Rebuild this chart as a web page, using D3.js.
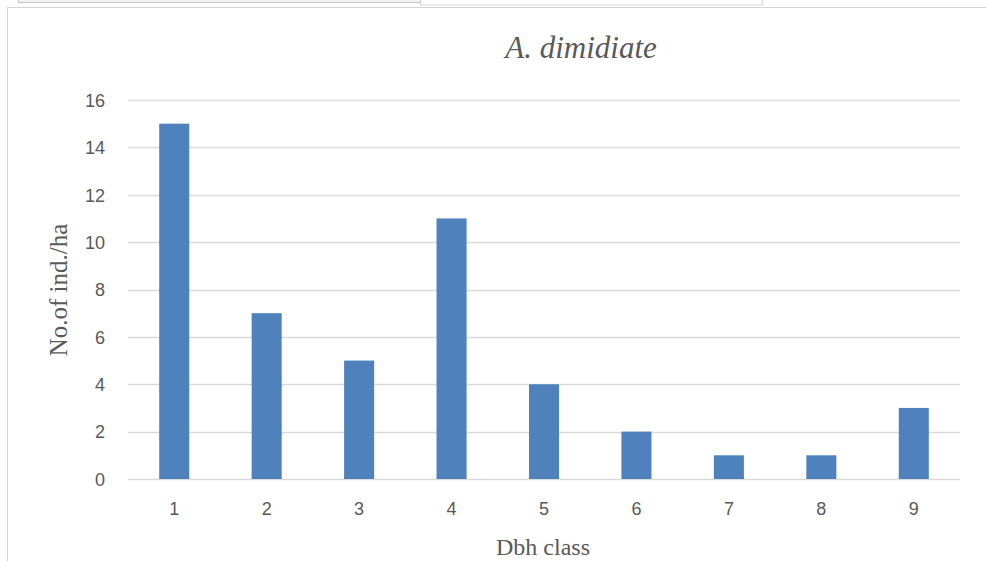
<!DOCTYPE html>
<html><head><meta charset="utf-8">
<script src="https://cdn.jsdelivr.net/npm/d3@7"></script>
<style>body{margin:0;background:#fff;}svg{display:block;}</style>
</head><body>
<script>
const categories = ["1","2","3","4","5","6","7","8","9"];
const values = [15,7,5,11,4,2,1,1,3];
const yTicks = [0,2,4,6,8,10,12,14,16];
const title = "A. dimidiate";
const xTitle = "Dbh class";
const yTitle = "No.of ind./ha";

const W = 986, H = 561;
const svg = d3.select("body").append("svg").attr("width", W).attr("height", H);

// frame artifacts
svg.append("rect").attr("x",18.5).attr("y",-2).attr("width",402).attr("height",4.5)
  .attr("fill","#f2f2f2").attr("stroke","#c8c8c8");
svg.append("rect").attr("x",420.5).attr("y",-2).attr("width",342).attr("height",7)
  .attr("fill","#fff").attr("stroke","#d4d4d4");
svg.append("path").attr("d","M7.5,561 V7.5 H986").attr("fill","none").attr("stroke","#d4d4d4");

const m = {left:128, right:960, top:100, bottom:479};
const x = d3.scaleBand().domain(categories).range([m.left, m.right]).paddingInner(0.675).paddingOuter(0.3375);
const y = d3.scaleLinear().domain([0,16]).range([m.bottom, m.top]);

// gridlines
svg.append("g").selectAll("line").data(yTicks).join("line")
  .attr("x1", m.left).attr("x2", m.right)
  .attr("y1", d=>Math.round(y(d))+0.5).attr("y2", d=>Math.round(y(d))+0.5)
  .attr("stroke","#d9d9d9").attr("stroke-width",1.3);

// bars
svg.append("g").selectAll("rect").data(values).join("rect")
  .attr("x",(d,i)=>x(categories[i])).attr("width",x.bandwidth())
  .attr("y",d=>y(d)).attr("height",d=>y(0)-y(d))
  .attr("fill","#4f81bd");

// y axis
const yAxis = d3.axisLeft(y).tickValues(yTicks).tickSize(0).tickPadding(0);
const ga = svg.append("g").attr("transform",`translate(105,0)`).call(yAxis);
ga.select(".domain").remove();
ga.selectAll("text").attr("font-family","'Liberation Sans', Arial, sans-serif").attr("font-size",18).attr("fill","#595959").attr("dy","0.35em");

// x axis
const xAxis = d3.axisBottom(x).tickSize(0).tickPadding(0);
const gx = svg.append("g").attr("transform",`translate(0,502)`).call(xAxis);
gx.select(".domain").remove();
gx.selectAll("text").attr("font-family","'Liberation Sans', Arial, sans-serif").attr("font-size",18).attr("fill","#595959");

// titles
svg.append("text").attr("x",581).attr("y",58).attr("text-anchor","middle")
  .attr("font-family","'Liberation Serif','DejaVu Serif',serif").attr("font-style","italic")
  .attr("font-size",31).attr("fill","#595959").text(title);
svg.append("text").attr("x",543).attr("y",555).attr("text-anchor","middle")
  .attr("font-family","'Liberation Serif',serif").attr("font-size",24).attr("fill","#595959").text(xTitle);
svg.append("text").attr("transform","translate(67,290) rotate(-90)").attr("text-anchor","middle")
  .attr("font-family","'Liberation Serif',serif").attr("font-size",25).attr("fill","#595959").text(yTitle);
</script>
</body></html>
